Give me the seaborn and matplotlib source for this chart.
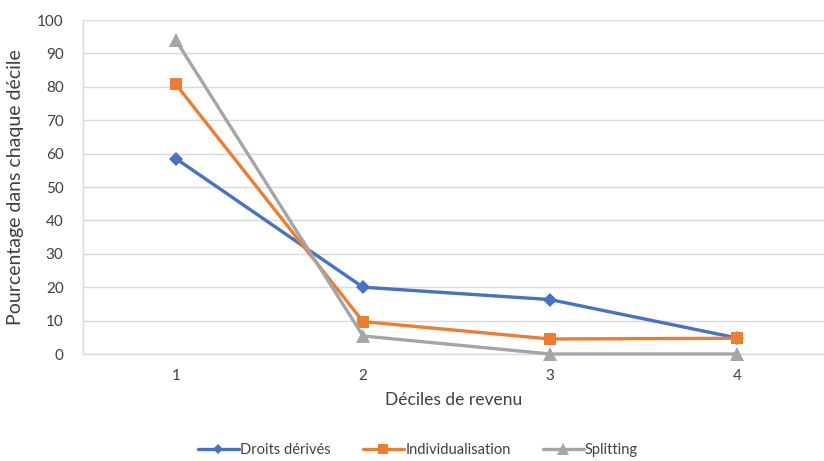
import matplotlib
matplotlib.use("Agg")
import matplotlib.pyplot as plt
import seaborn as sns
import pandas as pd
from matplotlib.lines import Line2D

deciles = ["1", "2", "3", "4"]
droits_derives = [58.5, 20.0, 16.3, 4.8]
individualisation = [80.7, 9.7, 4.5, 4.7]
splitting = [93.9, 5.4, 0.0, 0.0]

series_names = ["Droits dérivés", "Individualisation", "Splitting"]
series_values = [droits_derives, individualisation, splitting]
colors = ["#4472C4", "#ED7D31", "#A5A5A5"]
markers = ["D", "s", "^"]
marker_sizes = [7, 9, 10]

sns.set_theme(style="white")
plt.rcParams["font.family"] = ["Lato", "DejaVu Sans"]
text_color = "#404040"

rows = []
for name, vals in zip(series_names, series_values):
    for i, v in enumerate(vals):
        rows.append({"pos": i, "Décile": deciles[i], "serie": name, "valeur": v})
df = pd.DataFrame(rows)

fig = plt.figure(figsize=(8.24, 4.61), dpi=100)
ax = fig.add_axes([83 / 824, 1 - 354 / 461, (824 - 83) / 824, (354 - 20) / 461])

for name, col, mk, ms in zip(series_names, colors, markers, marker_sizes):
    sub = df[df["serie"] == name]
    sns.lineplot(data=sub, x="pos", y="valeur", ax=ax, color=col, linewidth=2.4,
                 marker=mk, markersize=ms, markeredgewidth=0, legend=False, zorder=3)
for line in ax.lines:
    line.set_clip_on(False)

ax.set_ylim(0, 100)
ax.set_xlim(-0.497, 3.465)
ax.set_yticks(range(0, 101, 10))
ax.set_xticks(range(len(deciles)))
ax.set_xticklabels(deciles)
ax.yaxis.grid(True, color="#d9d9d9", linewidth=1)
ax.xaxis.grid(False)
for side in ["top", "right"]:
    ax.spines[side].set_visible(False)
for side in ["left", "bottom"]:
    ax.spines[side].set_color("#d9d9d9")
    ax.spines[side].set_linewidth(1)
ax.tick_params(axis="both", colors=text_color, labelsize=11, length=0)
ax.tick_params(axis="y", pad=14)
ax.tick_params(axis="x", pad=11)
ax.set_xlabel("Déciles de revenu", fontsize=12.5, color=text_color, labelpad=6)
ax.set_ylabel("Pourcentage dans chaque décile", fontsize=14, color=text_color, labelpad=9)

handles = [Line2D([0], [0], color=c, linewidth=2.4, marker=m, markersize=s * 0.8, markeredgewidth=0)
           for c, m, s in zip(colors, markers, marker_sizes)]
fig.legend(handles, series_names, loc="center", bbox_to_anchor=(418 / 824, 1 - 450 / 461),
           ncol=3, frameon=False, fontsize=10.5, handlelength=2.8, handletextpad=0.1,
           columnspacing=2.2, labelcolor=text_color)

fig.savefig("out.png", dpi=100)
